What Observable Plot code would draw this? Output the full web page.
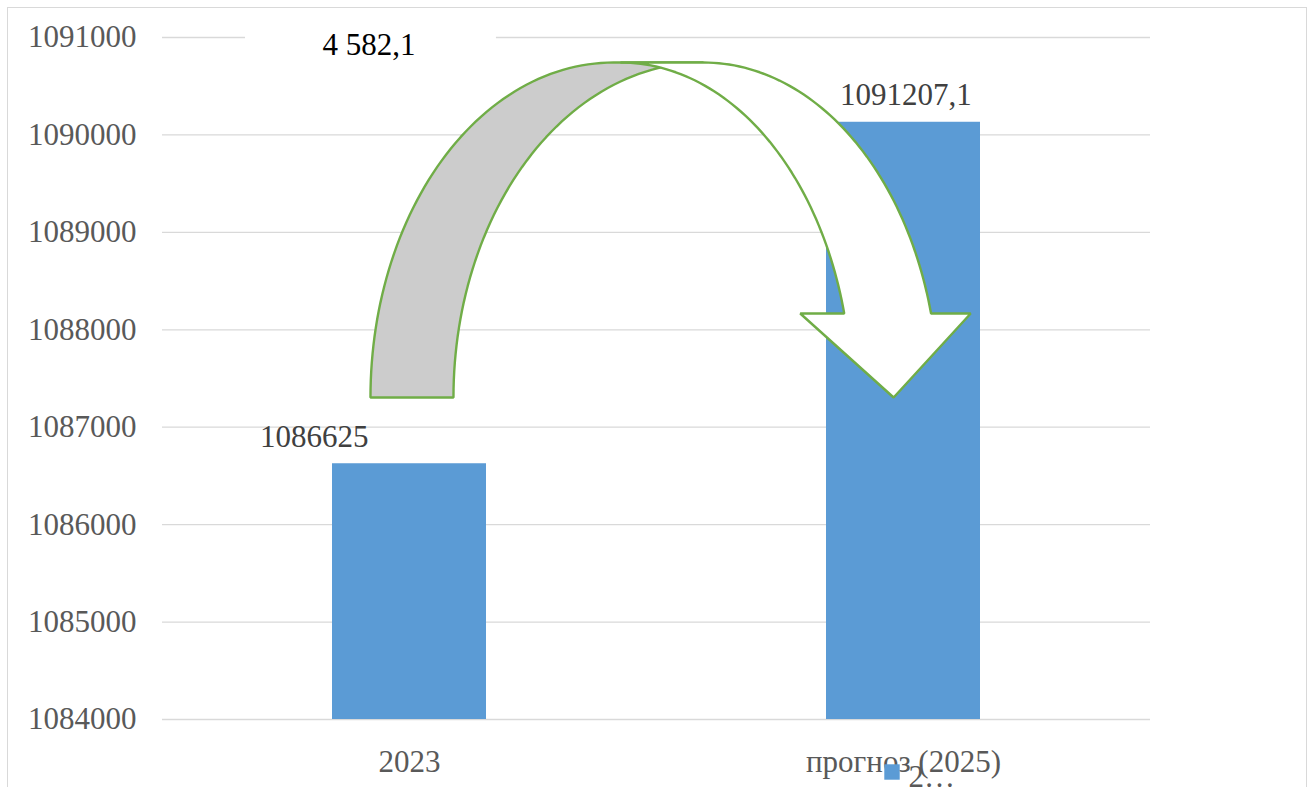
<!DOCTYPE html>
<html>
<head>
<meta charset="utf-8">
<script src="https://cdn.jsdelivr.net/npm/d3@7"></script>
<script src="https://cdn.jsdelivr.net/npm/@observablehq/plot@0.6"></script>
<style>
  html, body { margin: 0; padding: 0; background: #fff; }
  #wrap { position: relative; width: 1312px; height: 787px; overflow: hidden; }
  #border { position: absolute; left: 7px; top: 7px; width: 1298px; height: 800px;
            border: 1.5px solid #d9d9d9; border-bottom: none; pointer-events: none; }
</style>
</head>
<body>
<div id="wrap"><div id="border"></div></div>
<script>
// ---- data ----
const categories = ["2023", "прогноз (2025)"];
const values = [1086625, 1090130];            // bar heights as drawn
const valueLabels = ["1086625", "1091207,1"]; // printed data labels
const yTicks = [1084000, 1085000, 1086000, 1087000, 1088000, 1089000, 1090000, 1091000];
const diffLabel = "4 582,1";
const legendLabel = "2…";

const yMin = yTicks[0], yMax = yTicks[yTicks.length - 1];
const table = categories.map((c, i) => ({i, c, v: values[i], label: valueLabels[i]}));

// ---- curved arrow annotation (x in category units, y in value units) ----
const cy = 1087305, ry = 3438, baseY = 1088167;
const th0 = Math.asin((baseY - cy) / ry);
function arc(cx, rx, t0, t1, n = 60) {
  return d3.range(n + 1).map(k => {
    const t = t0 + (t1 - t0) * k / n;
    return {x: cx + rx * Math.cos(t), y: cy + ry * Math.sin(t)};
  });
}
const tail = [...arc(0.413, 0.492, Math.PI, Math.PI / 2), ...arc(0.595, 0.506, Math.PI / 2, Math.PI)];
const head = [
  ...arc(0.595, 0.476, Math.PI / 2, th0),
  {x: 1.136, y: baseY},
  {x: 0.980, y: cy},
  {x: 0.791, y: baseY},
  ...arc(0.427, 0.468, th0, Math.PI / 2)
];

const labelShift = [-0.193, 0.005];

const plot = Plot.plot({
  width: 1312,
  height: 787,
  marginLeft: 162,
  marginRight: 162,
  marginTop: 37,
  marginBottom: 68,
  style: {fontFamily: "'Liberation Serif', 'Times New Roman', serif", fontSize: "31px", color: "#595959", background: "transparent", overflow: "visible"},
  x: {domain: [-0.5, 1.5], label: null},
  y: {domain: [yMin, yMax], label: null},
  marks: [
    Plot.gridY(yTicks, {stroke: "#d9d9d9", strokeOpacity: 1, strokeWidth: 1.3}),
    Plot.axisY({ticks: yTicks, tickSize: 0, tickPadding: 26, tickFormat: d3.format("d"), label: null, fontSize: 31}),
    Plot.axisX({ticks: [0, 1], tickSize: 0, tickPadding: 30, tickFormat: i => categories[i], label: null, fontSize: 31}),
    Plot.rectY(table, {x1: d => d.i - 0.5, x2: d => d.i + 0.5, y1: () => yMin, y2: "v",
      insetLeft: 170, insetRight: 170, fill: "#5B9BD5"}),
    Plot.text(table, {x: d => d.i + labelShift[d.i], y: "v", text: "label", dy: -27, fill: "#404040", fontSize: 31}),
    Plot.rect([diffLabel], {x1: -0.332, x2: 0.176, y1: 1090815, y2: 1091123, fill: "white"}),
    Plot.text([diffLabel], {x: -0.082, y: 1090918, text: d => d, fill: "#000", fontSize: 31}),
    Plot.line(tail, {x: "x", y: "y", curve: "linear-closed", fill: "#cccccc", stroke: "#70AD47", strokeWidth: 2.4, strokeLinejoin: "miter"}),
    Plot.line(head, {x: "x", y: "y", curve: "linear-closed", fill: "#ffffff", stroke: "#70AD47", strokeWidth: 2.4, strokeLinejoin: "miter"}),
    Plot.dot([legendLabel], {frameAnchor: "bottom", dx: 235.5, dy: 52.5, symbol: "square", r: 8.7, fill: "#5B9BD5", stroke: "none"}),
    Plot.text([legendLabel], {frameAnchor: "bottom", dx: 252, dy: 45, text: d => d, textAnchor: "start", lineAnchor: "top", fill: "#595959", fontSize: 31})
  ]
});
document.getElementById("wrap").prepend(plot);
</script>
</body>
</html>
